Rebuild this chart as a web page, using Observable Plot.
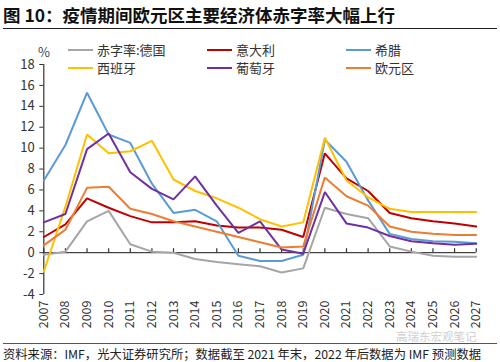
<!DOCTYPE html>
<html><head><meta charset="utf-8">
<script src="https://cdn.jsdelivr.net/npm/d3@7"></script>
<script src="https://cdn.jsdelivr.net/npm/@observablehq/plot@0.6"></script>
<style>
body{margin:0;width:500px;height:362px;position:relative;overflow:hidden;background:#fff;font-family:"Noto Sans CJK SC","Noto Sans",sans-serif;color:#222;}
#title{position:absolute;left:3px;top:2px;font-size:17.5px;font-weight:bold;color:#111;white-space:nowrap;}
#tline{position:absolute;left:3px;top:28px;width:494px;height:1px;background:#222;}
#unit{position:absolute;left:38px;top:42px;font-size:13px;color:#444;}
.lg{position:absolute;font-size:13px;color:#333;white-space:nowrap;display:flex;align-items:center;}
.lg span.sw{display:inline-block;width:25px;height:2px;margin-right:4px;}
#chart{position:absolute;left:0;top:30px;}
#fline{position:absolute;left:3px;top:343px;width:494px;height:1px;background:#555;}
#foot{position:absolute;left:3px;top:345px;font-size:12.3px;color:#222;white-space:nowrap;}
#wm{position:absolute;left:396px;top:331px;font-size:11.5px;line-height:11.5px;color:#cfcfcf;white-space:nowrap;}
</style></head>
<body>
<div id="title">图 10：疫情期间欧元区主要经济体赤字率大幅上行</div>
<div id="tline"></div>
<div id="unit">%</div>
<div id="legend"></div>
<div id="chart"></div>
<div id="wm">高瑞东宏观笔记</div>
<div id="fline"></div>
<div id="foot">资料来源：IMF，光大证券研究所；数据截至 2021 年末，2022 年后数据为 IMF 预测数据</div>
<script>
const years = [2007,2008,2009,2010,2011,2012,2013,2014,2015,2016,2017,2018,2019,2020,2021,2022,2023,2024,2025,2026,2027];
const seriesNames = ["赤字率:德国","意大利","希腊","西班牙","葡萄牙","欧元区"];
const germany  = [-0.2, 0.1, 3.0, 4.0, 0.8, 0.1, 0.0, -0.6, -0.9, -1.1, -1.3, -1.9, -1.5, 4.3, 3.7, 3.3, 0.6, 0.1, -0.3, -0.4, -0.4];
const italy    = [1.5, 2.7, 5.2, 4.3, 3.5, 2.9, 2.9, 3.0, 2.6, 2.4, 2.4, 2.2, 1.5, 9.5, 7.1, 5.9, 3.8, 3.3, 3.0, 2.8, 2.5];
const greece   = [6.9, 10.3, 15.3, 11.3, 10.5, 6.6, 3.8, 4.1, 3.0, -0.3, -0.8, -0.8, -0.2, 10.8, 8.7, 5.0, 1.8, 1.3, 1.1, 1.05, 0.9];
const spain    = [-1.8, 4.4, 11.3, 9.5, 9.7, 10.7, 7.0, 5.9, 5.2, 4.3, 3.2, 2.5, 2.9, 11.0, 6.9, 5.3, 4.2, 3.9, 3.9, 3.9, 3.9];
const portugal = [2.9, 3.7, 9.9, 11.4, 7.7, 6.1, 5.1, 7.3, 4.5, 1.9, 3.0, 0.3, -0.1, 5.8, 2.8, 2.4, 1.6, 1.1, 0.9, 0.75, 0.85];
const euro     = [0.7, 2.2, 6.2, 6.3, 4.2, 3.7, 3.0, 2.5, 2.0, 1.5, 1.0, 0.5, 0.6, 7.2, 5.4, 4.5, 2.5, 2.0, 1.8, 1.7, 1.7];
const yTicks = [-4,-2,0,2,4,6,8,10,12,14,16,18];
const colors = ["#A5A5A5","#C00000","#5B9BD5","#FFC000","#7030A0","#ED7D31"];

const valuesBySeries = [germany, italy, greece, spain, portugal, euro];
const rows = [];
seriesNames.forEach((s, k) => years.forEach((yr, i) => rows.push({series: s, year: yr, value: valuesBySeries[k][i]})));

const legendOrder = [["赤字率:德国","意大利","希腊"],["西班牙","葡萄牙","欧元区"]];
const legendX = [68, 207, 346], legendY = [40, 58];
const lg = document.getElementById("legend");
legendOrder.forEach((row, r) => row.forEach((name, c) => {
  const d = document.createElement("div");
  d.className = "lg";
  d.style.left = legendX[c] + "px";
  d.style.top = legendY[r] + "px";
  const sw = document.createElement("span");
  sw.className = "sw";
  sw.style.background = colors[seriesNames.indexOf(name)];
  d.appendChild(sw);
  d.appendChild(document.createTextNode(name));
  lg.appendChild(d);
}));

const chart = Plot.plot({
  width: 500,
  height: 310,
  marginTop: 34,
  marginBottom: 46,
  marginLeft: 43.3,
  marginRight: 24.3,
  style: {fontFamily: '"Noto Sans CJK SC","Noto Sans",sans-serif', background: "transparent"},
  x: {domain: [years[0], years[years.length-1]], axis: null, label: null},
  y: {domain: [yTicks[0], yTicks[yTicks.length-1]], axis: null, label: null},
  color: {domain: seriesNames, range: colors},
  marks: [
    Plot.axisY({ticks: yTicks, tickFormat: d => String(d), tickSize: 4, tickPadding: 5, fontSize: 13, color: "#333", stroke: "#333", label: null}),
    Plot.axisX({ticks: years, tickFormat: d => String(d), tickRotate: -90, tickSize: 0, tickPadding: 6, fontSize: 12.5, color: "#333", label: null}),
    Plot.ruleX([years[0]], {y1: yTicks[0], y2: yTicks[yTicks.length-1], stroke: "#333", strokeWidth: 1.2}),
    Plot.ruleY([0], {stroke: "#444", strokeWidth: 1.2}),
    Plot.ruleX(years, {x: d => d, y1: 0, y2: 0, insetBottom: 4, stroke: "#333", strokeWidth: 1.2}),
    Plot.line(rows, {x: "year", y: "value", z: "series", stroke: "series", strokeWidth: 2, strokeLinejoin: "miter"})
  ]
});
document.getElementById("chart").appendChild(chart);
</script>
</body></html>
